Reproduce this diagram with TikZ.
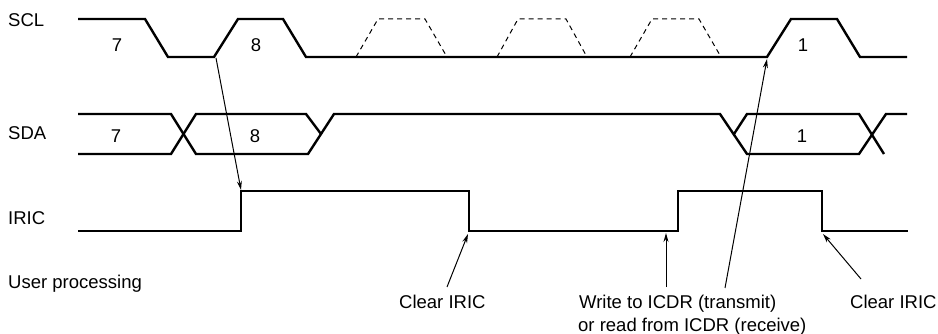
\documentclass[tikz,border=0pt]{standalone}
\usepackage{fontspec}
\setmainfont{Liberation Sans}
\usetikzlibrary{arrows.meta}
\begin{document}
\begin{tikzpicture}[x=1pt,y=-1pt,
  sig/.style={line width=2.4pt,line join=miter},
  ghost/.style={line width=1pt,dash pattern=on 5pt off 4pt},
  ptr/.style={line width=1pt,-{Stealth[length=9pt,width=5pt]}},
  lbl/.style={inner sep=0pt,anchor=base west,font=\fontsize{18.5}{22}\selectfont},
  num/.style={inner sep=0pt,anchor=base,font=\fontsize{18.5}{22}\selectfont}]
\useasboundingbox (0,0) rectangle (938,334);
% signal names
\node[lbl] (scl) at (8,27) {SCL};
\node[lbl] (sda) at (8,140) {SDA};
\node[lbl] (iric) at (8,225) {IRIC};
\node[lbl] (user) at (8,288) {User processing};
% SCL
\draw[sig] (78,19) -- (145,19) -- (168,57) -- (214,57) -- (238,19) -- (283,19) -- (306,57)
  -- (767,57) -- (791,19) -- (837,19) -- (860,57) -- (907,57);
\draw[ghost] (356,57) -- (378,19) -- (425,19) -- (447,57);
\draw[ghost] (497,57) -- (518,19) -- (566,19) -- (587,57);
\draw[ghost] (630,57) -- (652,19) -- (699,19) -- (721,57);
\node[num] (c7) at (117,52) {7};
\node[num] (c8) at (256,52) {8};
\node[num] (c1) at (803,52) {1};
% SDA
\draw[sig] (78,114) -- (171,114) -- (196,154) -- (308,154) -- (334,114) -- (720,114)
  -- (747,154) -- (859,154) -- (886,114) -- (907,114);
\draw[sig] (78,154) -- (171,154) -- (196,114) -- (306,114) -- (321,134);
\draw[sig] (734,134) -- (747,114) -- (859,114) -- (884,154);
\node[num] (d7) at (116,143) {7};
\node[num] (d8) at (255,143) {8};
\node[num] (d1) at (802,143) {1};
% IRIC
\draw[sig] (78,231) -- (241,231) -- (241,191) -- (469,191) -- (469,231) -- (678,231)
  -- (678,191) -- (822,191) -- (822,231) -- (908,231);
% annotations
\node[lbl] (clr1) at (399,308) {Clear IRIC};
\node[lbl] (wr) at (579,308) {Write to ICDR (transmit)};
\node[lbl] (rd) at (578,331) {or read from ICDR (receive)};
\node[lbl] (clr2) at (850,308) {Clear IRIC};
% arrow end points
\coordinate (sclfall8) at (216,58);
\coordinate (iricrise) at (241,190);
\coordinate (clr1tail) at (447,287);
\coordinate (iricfall1) at (468,234);
\coordinate (wrtail) at (666,287);
\coordinate (iricrise2) at (666,233);
\coordinate (wrtail2) at (725,288);
\coordinate (sclrise1) at (767,59);
\coordinate (clr2tail) at (861,279);
\coordinate (iricfall2) at (823,234);
\draw[ptr] (sclfall8) -- (iricrise);
\draw[ptr] (clr1tail) -- (iricfall1);
\draw[ptr] (wrtail) -- (iricrise2);
\draw[ptr] (wrtail2) -- (sclrise1);
\draw[ptr] (clr2tail) -- (iricfall2);
\end{tikzpicture}
\end{document}
